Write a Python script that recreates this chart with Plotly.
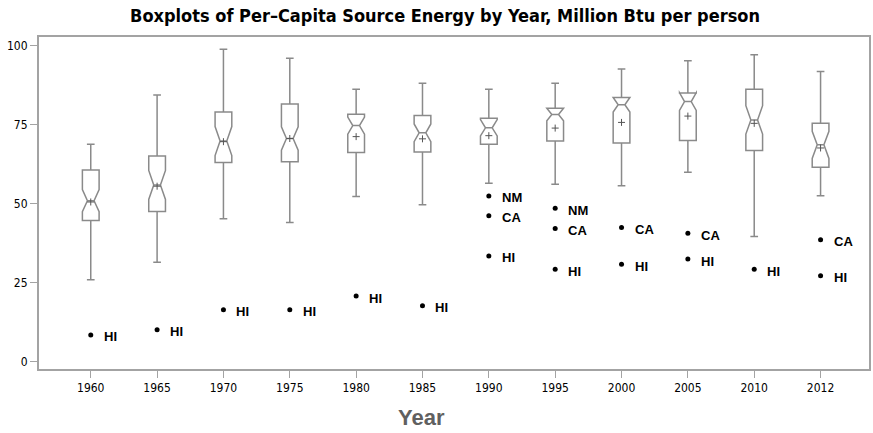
import plotly.graph_objects as go

# Per-capita source energy by state, summarised by year (million Btu per person)
years = ["1960", "1965", "1970", "1975", "1980", "1985",
         "1990", "1995", "2000", "2005", "2010", "2012"]
q1 = [44.6, 47.5, 63.0, 63.2, 66.2, 66.3, 68.8, 69.8, 69.2, 70.0, 66.8, 61.5]
median = [50.9, 55.9, 69.8, 70.6, 74.7, 72.4, 74.0, 78.2, 81.3, 82.3, 76.5, 68.6]
q3 = [60.6, 65.1, 79.0, 81.5, 78.3, 77.9, 77.0, 80.2, 83.6, 85.0, 86.2, 75.4]
lower_whisker = [25.9, 31.4, 45.2, 44.0, 52.2, 49.6, 56.4, 56.1, 55.6, 59.9, 39.6, 52.5]
upper_whisker = [68.8, 84.4, 98.9, 96.0, 86.2, 88.1, 86.2, 88.1, 92.6, 95.2, 97.1, 91.8]
mean = [50.5, 55.5, 69.6, 70.6, 71.2, 70.5, 71.5, 73.9, 75.7, 77.7, 75.4, 67.6]
notch_half = [3.5, 4.6, 4.6, 3.7, 2.7, 2.8, 2.6, 2.0, 2.3, 2.8, 4.5, 4.3]

# Outlying states
outlier_year = ["1960", "1965", "1970", "1975", "1980", "1985",
                "1990", "1990", "1990", "1995", "1995", "1995",
                "2000", "2000", "2005", "2005", "2010", "2012", "2012"]
outlier_state = ["HI", "HI", "HI", "HI", "HI", "HI",
                 "NM", "CA", "HI", "NM", "CA", "HI",
                 "CA", "HI", "CA", "HI", "HI", "CA", "HI"]
outlier_value = [8.4, 10.0, 16.4, 16.4, 20.7, 17.6,
                 52.4, 46.1, 33.4, 48.5, 42.1, 29.2,
                 42.4, 30.8, 40.6, 32.4, 29.2, 38.5, 27.1]

y_ticks = [0, 25, 50, 75, 100]

narrow = "Liberation Sans Narrow, Arial Narrow, DejaVu Sans Condensed, sans-serif"
frame_color = "#a3a3a3"
box_color = "#8a8a8a"

fig = go.Figure()

fig.add_trace(go.Box(
    x=years,
    q1=q1, median=median, q3=q3,
    lowerfence=lower_whisker, upperfence=upper_whisker,
    notched=True, notchspan=notch_half, notchwidth=0.3,
    whiskerwidth=0.46,
    boxpoints=False,
    line=dict(color=box_color, width=1.5),
    fillcolor="rgba(0,0,0,0)",
    showlegend=False,
    hoverinfo="skip",
))

fig.add_trace(go.Scatter(
    x=years, y=mean, mode="markers",
    marker=dict(symbol="cross-thin", size=5, line=dict(color="#555555", width=1)),
    showlegend=False, hoverinfo="skip",
))

fig.add_trace(go.Scatter(
    x=outlier_year, y=outlier_value, mode="markers",
    marker=dict(symbol="circle", size=5, color="black"),
    showlegend=False, hoverinfo="skip",
))

# State labels beside the outlying points (category axis -> serial index)
for yr, st, val in zip(outlier_year, outlier_state, outlier_value):
    fig.add_annotation(
        x=years.index(yr), y=val, text=st, showarrow=False,
        xanchor="left", yanchor="middle", xshift=11, yshift=-2,
        font=dict(family="Liberation Sans, Arial, sans-serif", size=13,
                  color="black", weight="bold"),
    )

fig.add_annotation(
    xref="paper", yref="paper", x=(422 - 39) / 832, y=-0.145,
    text="Year", showarrow=False, xanchor="center", yanchor="middle",
    font=dict(family="Liberation Sans, Arial, sans-serif", size=22,
              color="#606060", weight="bold"),
)

fig.update_layout(
    width=873, height=433,
    margin=dict(l=39, r=2, t=37, b=64),
    paper_bgcolor="white", plot_bgcolor="white",
    boxgap=0.64,
    title=dict(
        text="Boxplots of Per\u2013Capita Source Energy by Year, Million Btu per person",
        x=445 / 873, xref="container", xanchor="center",
        y=1 - 16 / 433, yref="container", yanchor="middle",
        font=dict(family=narrow, size=18, color="black", weight="bold"),
    ),
    xaxis=dict(
        type="category", range=[-0.78, 11.73],
        showline=True, linecolor=frame_color, linewidth=2, mirror=True,
        ticks="outside", ticklen=7, tickwidth=1.2, tickcolor=frame_color,
        showgrid=False, zeroline=False,
        tickfont=dict(family=narrow, size=12, color="black"),
    ),
    yaxis=dict(
        range=[-2.4, 102.75], tickvals=y_ticks,
        showline=True, linecolor=frame_color, linewidth=2, mirror=True,
        ticks="outside", ticklen=7, tickwidth=1.2, tickcolor=frame_color,
        showgrid=False, zeroline=False,
        tickfont=dict(family=narrow, size=12, color="black"),
    ),
)

fig.write_html("out.html")
